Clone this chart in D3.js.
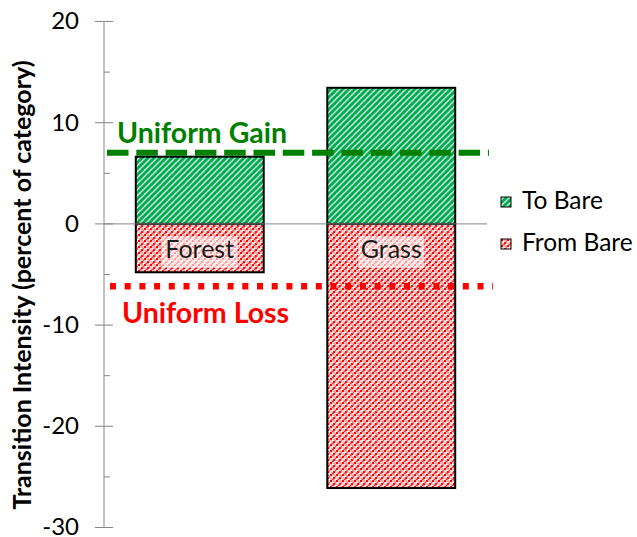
<!DOCTYPE html>
<html>
<head>
<meta charset="utf-8">
<script src="https://cdn.jsdelivr.net/npm/d3@7"></script>
<style>
  body { margin: 0; background: #fff; }
  svg { display: block; }
</style>
</head>
<body>
<div id="chart"></div>
<script>
// chart values
var categories = ["Forest", "Grass"];
var toBare = [6.64, 13.45];
var fromBare = [-4.78, -26.1];
var uniformGain = 7.04;
var uniformLoss = -6.17;
var yTicks = [20, 10, 0, -10, -20, -30];
var yMinorTicks = [15, 5, -5, -15, -25];
var seriesNames = ["To Bare", "From Bare"];

var width = 637, height = 537;
var font = "Lato, Carlito, 'Open Sans', sans-serif";

var svg = d3.select("#chart").append("svg")
  .attr("width", width)
  .attr("height", height);

// patterns
var defs = svg.append("defs");
var stripes = defs.append("pattern")
  .attr("id", "stripes")
  .attr("patternUnits", "userSpaceOnUse")
  .attr("width", 6)
  .attr("height", 6);
stripes.append("rect").attr("width", 6).attr("height", 6).attr("fill", "#fff");
stripes.append("path")
  .attr("d", "M-1,1 l2,-2 M0,6 l6,-6 M5,7 l2,-2")
  .attr("stroke", "#00B050")
  .attr("stroke-width", 3.1);

var dots = defs.append("pattern")
  .attr("id", "dots")
  .attr("patternUnits", "userSpaceOnUse")
  .attr("width", 6)
  .attr("height", 6);
dots.append("rect").attr("width", 6).attr("height", 6).attr("fill", "#fff");
[[0, 0, "#ff0000"], [3, 3, "#ff0000"], [3, 0, "#ffaaaa"], [0, 3, "#ffd6d6"], [1.5, 4.5, "#ff3030"], [4.5, 1.5, "#ff6060"]].forEach(function (d) {
  dots.append("rect")
    .attr("x", d[0]).attr("y", d[1])
    .attr("width", 2.2).attr("height", 2.2)
    .attr("fill", d[2]);
});

// scales
var x = d3.scaleBand()
  .domain(categories)
  .range([104, 487])
  .paddingInner(0.332)
  .paddingOuter(0.166);

var y = d3.scaleLinear()
  .domain([-30, 20])
  .range([527.5, 21.5]);

var axisX = 104;

// y axis
svg.append("line")
  .attr("x1", axisX).attr("x2", axisX)
  .attr("y1", y(20)).attr("y2", y(-30))
  .attr("stroke", "#868686").attr("stroke-width", 1);

svg.selectAll(".major")
  .data(yTicks)
  .enter().append("line")
  .attr("x1", axisX - 9).attr("x2", axisX + 9)
  .attr("y1", function (d) { return y(d); })
  .attr("y2", function (d) { return y(d); })
  .attr("stroke", "#868686");

svg.selectAll(".minor")
  .data(yMinorTicks)
  .enter().append("line")
  .attr("x1", axisX).attr("x2", axisX + 6)
  .attr("y1", function (d) { return y(d); })
  .attr("y2", function (d) { return y(d); })
  .attr("stroke", "#868686");

svg.selectAll(".tickLabel")
  .data(yTicks)
  .enter().append("text")
  .attr("x", 79)
  .attr("y", function (d) { return y(d); })
  .attr("dy", "0.33em")
  .attr("text-anchor", "end")
  .style("font-family", font)
  .style("font-size", "24px")
  .attr("fill", "#000")
  .text(function (d) { return d; });

// y axis title
svg.append("text")
  .attr("transform", "translate(31,285) rotate(-90)")
  .attr("text-anchor", "middle")
  .style("font-family", font)
  .style("font-size", "25px")
  .style("font-weight", "bold")
  .text("Transition Intensity (percent of category)");

// bars
svg.selectAll(".toBare")
  .data(categories)
  .enter().append("rect")
  .attr("x", function (d) { return x(d); })
  .attr("width", x.bandwidth())
  .attr("y", function (d, i) { return y(toBare[i]); })
  .attr("height", function (d, i) { return y(0) - y(toBare[i]); })
  .attr("fill", "url(#stripes)")
  .attr("stroke", "#000")
  .attr("stroke-width", 2);

svg.selectAll(".fromBare")
  .data(categories)
  .enter().append("rect")
  .attr("x", function (d) { return x(d); })
  .attr("width", x.bandwidth())
  .attr("y", y(0))
  .attr("height", function (d, i) { return y(fromBare[i]) - y(0); })
  .attr("fill", "url(#dots)")
  .attr("stroke", "#000")
  .attr("stroke-width", 2);

// zero line
svg.append("line")
  .attr("x1", axisX).attr("x2", x.range()[1])
  .attr("y1", y(0)).attr("y2", y(0))
  .attr("stroke", "#868686").attr("stroke-width", 1);

// category labels with light background
var catLabels = svg.selectAll(".cat")
  .data(categories)
  .enter().append("g");

catLabels.append("rect")
  .attr("x", function (d) { return x(d) + x.bandwidth() / 2 - (d === "Forest" ? 38 : 33); })
  .attr("width", function (d) { return d === "Forest" ? 76 : 66; })
  .attr("y", y(0) + 13)
  .attr("height", 31)
  .attr("fill", "#fff")
  .attr("opacity", 0.6);

catLabels.append("text")
  .attr("x", function (d) { return x(d) + x.bandwidth() / 2; })
  .attr("y", y(0) + 34)
  .attr("text-anchor", "middle")
  .style("font-family", font)
  .style("font-size", "25px")
  .attr("fill", "#1a1a1a")
  .text(function (d) { return d; });

// uniform lines
svg.append("line")
  .attr("x1", 107).attr("x2", x.range()[1] + 2)
  .attr("y1", y(uniformGain)).attr("y2", y(uniformGain))
  .attr("stroke", "#008000")
  .attr("stroke-width", 6)
  .attr("stroke-dasharray", "21.5 7.8");

svg.append("line")
  .attr("x1", 110).attr("x2", x.range()[1] + 6)
  .attr("y1", y(uniformLoss)).attr("y2", y(uniformLoss))
  .attr("stroke", "#ff0000")
  .attr("stroke-width", 6.5)
  .attr("stroke-dasharray", "6 8.7");

svg.append("text")
  .attr("x", 117).attr("y", 143)
  .style("font-family", font)
  .style("font-size", "28.5px")
  .style("font-weight", "bold")
  .attr("fill", "#008000")
  .text("Uniform Gain");

svg.append("text")
  .attr("x", 122).attr("y", 323)
  .style("font-family", font)
  .style("font-size", "28.5px")
  .style("font-weight", "bold")
  .attr("fill", "#ff0000")
  .text("Uniform Loss");

// legend
var legend = svg.selectAll(".legend")
  .data(seriesNames)
  .enter().append("g")
  .attr("transform", function (d, i) { return "translate(501," + (197 + i * 42) + ")"; });

legend.append("rect")
  .attr("width", 10).attr("height", 10)
  .attr("fill", function (d, i) { return i === 0 ? "url(#stripes)" : "url(#dots)"; })
  .attr("stroke", "#000")
  .attr("stroke-width", 1);

legend.append("text")
  .attr("x", 21)
  .attr("y", 12)
  .style("font-family", font)
  .style("font-size", "24.5px")
  .text(function (d) { return d; });
</script>
</body>
</html>
